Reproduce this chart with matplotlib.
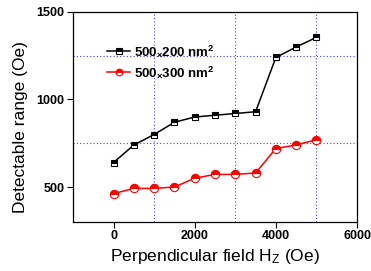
import matplotlib
matplotlib.use("Agg")
import matplotlib.pyplot as plt

field = [0, 500, 1000, 1500, 2000, 2500, 3000, 3500, 4000, 4500, 5000]
range_200 = [640, 740, 800, 870, 900, 910, 920, 930, 1240, 1300, 1355]
range_300 = [462, 492, 492, 500, 550, 572, 572, 580, 720, 740, 770]
labels = ["500$_{\\times}$200 nm$^\\mathbf{2}$", "500$_{\\times}$300 nm$^\\mathbf{2}$"]
xticks = [0, 2000, 4000, 6000]
yticks = [500, 1000, 1500]
vgrid = [1000, 3000, 5000]
hgrid = [750, 1250]

plt.rcParams['font.family'] = ['Liberation Sans', 'DejaVu Sans']
plt.rcParams['mathtext.fontset'] = 'custom'
plt.rcParams['mathtext.rm'] = 'Liberation Sans'
plt.rcParams['mathtext.bf'] = 'Liberation Sans:bold'
plt.rcParams['mathtext.default'] = 'regular'

fig = plt.figure(figsize=(3.71, 2.71), dpi=100)
ax = fig.add_axes([73/371, 1 - 222/271, (357-73)/371, (222-12)/271])

for v in vgrid:
    ax.axvline(v, color='#4444ff', lw=0.8, ls=(0, (1, 2)), zorder=1)
for h in hgrid:
    ax.axhline(h, color='#4444ff', lw=0.8, ls=(0, (1, 2)), zorder=1)

ax.plot(field, range_200, color='black', lw=1.1, marker='s', ms=5,
        fillstyle='top', markerfacecolor='black', markerfacecoloralt='white',
        markeredgecolor='black', markeredgewidth=0.8, label=labels[0], zorder=3)
ax.plot(field, range_300, color='red', lw=1.1, marker='o', ms=6,
        fillstyle='top', markerfacecolor='red', markerfacecoloralt='white',
        markeredgecolor='red', markeredgewidth=0.8, label=labels[1], zorder=3)

ax.set_xlim(-1000, 6000)
ax.set_ylim(300, 1500)
ax.set_xticks(xticks)
ax.set_yticks(yticks)
ax.tick_params(direction='out', length=4, width=0.8, labelsize=9, pad=2)
for lab in ax.get_xticklabels() + ax.get_yticklabels():
    lab.set_fontweight('bold')
for s in ax.spines.values():
    s.set_linewidth(0.9)

ax.set_xlabel("Perpendicular field H$_\\mathrm{Z}$ (Oe)", fontsize=12.5, labelpad=3)
ax.set_ylabel("Detectable range (Oe)", fontsize=12.5)
ax.yaxis.set_label_coords(-0.16, 0.45)

leg = ax.legend(loc='upper left', bbox_to_anchor=(0.1, 0.875), frameon=False,
                prop={'weight': 'bold', 'size': 9.5}, handlelength=1.8,
                handletextpad=0.3, labelspacing=0.4, borderaxespad=0,
                markerscale=0.8)

fig.savefig("out.png", dpi=100)
